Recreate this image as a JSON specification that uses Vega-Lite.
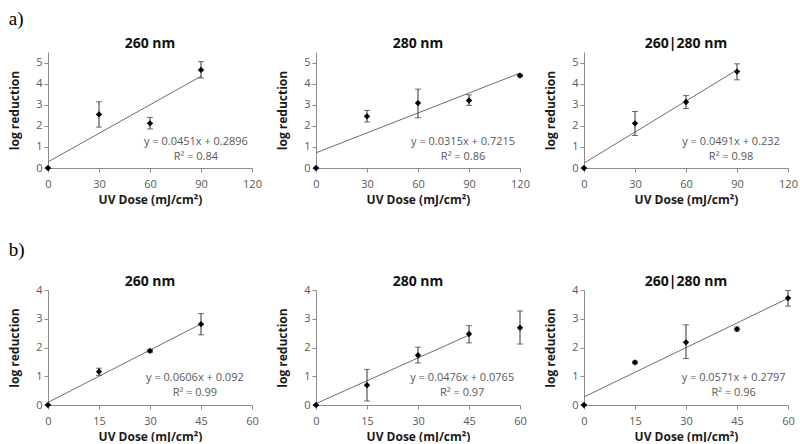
{
  "$schema": "https://vega.github.io/schema/vega-lite/v6.json",
  "padding": {"left": 8, "top": 10, "right": 0, "bottom": 0},
  "datasets": {
    "pts": [
      {"panel": "a1", "dose": 0, "lr": 0, "lo": 0, "hi": 0},
      {"panel": "a1", "dose": 30, "lr": 2.54, "lo": 1.94, "hi": 3.14},
      {"panel": "a1", "dose": 60, "lr": 2.12, "lo": 1.85, "hi": 2.4},
      {"panel": "a1", "dose": 90, "lr": 4.65, "lo": 4.27, "hi": 5.04},
      {"panel": "a2", "dose": 0, "lr": 0, "lo": 0, "hi": 0},
      {"panel": "a2", "dose": 30, "lr": 2.45, "lo": 2.18, "hi": 2.73},
      {"panel": "a2", "dose": 60, "lr": 3.08, "lo": 2.38, "hi": 3.74},
      {"panel": "a2", "dose": 90, "lr": 3.2, "lo": 2.97, "hi": 3.47},
      {"panel": "a2", "dose": 120, "lr": 4.38, "lo": 4.32, "hi": 4.44},
      {"panel": "a3", "dose": 0, "lr": 0, "lo": 0, "hi": 0},
      {"panel": "a3", "dose": 30, "lr": 2.12, "lo": 1.54, "hi": 2.68},
      {"panel": "a3", "dose": 60, "lr": 3.13, "lo": 2.82, "hi": 3.44},
      {"panel": "a3", "dose": 90, "lr": 4.57, "lo": 4.18, "hi": 4.94},
      {"panel": "b1", "dose": 0, "lr": 0, "lo": 0, "hi": 0},
      {"panel": "b1", "dose": 15, "lr": 1.16, "lo": 1.03, "hi": 1.28},
      {"panel": "b1", "dose": 30, "lr": 1.88, "lo": 1.83, "hi": 1.93},
      {"panel": "b1", "dose": 45, "lr": 2.81, "lo": 2.44, "hi": 3.18},
      {"panel": "b2", "dose": 0, "lr": 0, "lo": 0, "hi": 0},
      {"panel": "b2", "dose": 15, "lr": 0.69, "lo": 0.14, "hi": 1.24},
      {"panel": "b2", "dose": 30, "lr": 1.73, "lo": 1.46, "hi": 2.01},
      {"panel": "b2", "dose": 45, "lr": 2.47, "lo": 2.16, "hi": 2.76},
      {"panel": "b2", "dose": 60, "lr": 2.69, "lo": 2.12, "hi": 3.27},
      {"panel": "b3", "dose": 0, "lr": 0, "lo": 0, "hi": 0},
      {"panel": "b3", "dose": 15, "lr": 1.48, "lo": 1.43, "hi": 1.53},
      {"panel": "b3", "dose": 30, "lr": 2.18, "lo": 1.62, "hi": 2.79},
      {"panel": "b3", "dose": 45, "lr": 2.64, "lo": 2.57, "hi": 2.71},
      {"panel": "b3", "dose": 60, "lr": 3.72, "lo": 3.44, "hi": 3.98}
    ],
    "fit": [
      {"panel": "a1", "dose": 0, "lr": 0.29},
      {"panel": "a1", "dose": 90, "lr": 4.35},
      {"panel": "a2", "dose": 0, "lr": 0.72},
      {"panel": "a2", "dose": 120, "lr": 4.5},
      {"panel": "a3", "dose": 0, "lr": 0.23},
      {"panel": "a3", "dose": 90, "lr": 4.65},
      {"panel": "b1", "dose": 0, "lr": 0.09},
      {"panel": "b1", "dose": 45, "lr": 2.82},
      {"panel": "b2", "dose": 0, "lr": 0.05},
      {"panel": "b2", "dose": 45, "lr": 2.43},
      {"panel": "b3", "dose": 0, "lr": 0.28},
      {"panel": "b3", "dose": 60, "lr": 3.71}
    ],
    "eq": [
      {"panel": "a1", "eq": "y = 0.0451x + 0.2896", "r2": "R² = 0.84"},
      {"panel": "a2", "eq": "y = 0.0315x + 0.7215", "r2": "R² = 0.86"},
      {"panel": "a3", "eq": "y = 0.0491x + 0.232", "r2": "R² = 0.98"},
      {"panel": "b1", "eq": "y = 0.0606x + 0.092", "r2": "R² = 0.99"},
      {"panel": "b2", "eq": "y = 0.0476x + 0.0765", "r2": "R² = 0.97"},
      {"panel": "b3", "eq": "y = 0.0571x + 0.2797", "r2": "R² = 0.96"}
    ]
  },
  "config": {
    "view": {"stroke": null},
    "font": "Open Sans",
    "axis": {"grid": false, "domainColor": "#8c8c8c", "tickColor": "#8c8c8c", "tickSize": 4, "labelFont": "Open Sans", "labelFontSize": 11, "labelColor": "#595959", "labelOverlap": false, "labelFlush": false, "titleFont": "Open Sans", "titleFontSize": 12, "titleFontWeight": "bold", "titleColor": "#1a1a1a"},
    "axisX": {"labelPadding": 6, "titlePadding": 5},
    "axisY": {"labelPadding": 2, "titlePadding": 14},
    "title": {"font": "Open Sans", "fontSize": 14, "fontWeight": "bold", "color": "#111111", "offset": 1},
    "text": {"fontWeight": "normal", "fontSize": 11, "color": "#595959"},
    "concat": {"spacing": 64}
  },
  "spacing": 36,
  "vconcat": [
    {
      "title": {"text": "a)", "anchor": "start", "font": "Liberation Serif", "fontSize": 19, "fontWeight": "normal", "color": "#000000", "offset": 8},
      "bounds": "flush",
      "spacing": 64,
      "hconcat": [
        {
          "title": "260 nm", "width": 204, "height": 116,
          "layer": [
            {"data": {"name": "fit"}, "transform": [{"filter": "datum.panel === 'a1'"}],
             "mark": {"type": "line", "color": "#6e6e6e", "strokeWidth": 1},
             "encoding": {
               "x": {"field": "dose", "type": "quantitative", "scale": {"domain": [0, 120], "nice": false}, "axis": {"values": [0, 30, 60, 90, 120], "title": "UV Dose (mJ/cm²)"}},
               "y": {"field": "lr", "type": "quantitative", "scale": {"domain": [0, 5.5], "nice": false}, "axis": {"values": [0, 1, 2, 3, 4, 5], "title": "log reduction"}}}},
            {"data": {"name": "pts"}, "transform": [{"filter": "datum.panel === 'a1'"}],
             "layer": [
               {"mark": {"type": "rule", "color": "#333333", "strokeWidth": 1}, "encoding": {"x": {"field": "dose", "type": "quantitative", "scale": {"domain": [0, 120], "nice": false}, "axis": {"values": [0, 30, 60, 90, 120], "title": "UV Dose (mJ/cm²)"}}, "y": {"field": "lo", "type": "quantitative", "scale": {"domain": [0, 5.5], "nice": false}, "axis": {"values": [0, 1, 2, 3, 4, 5], "title": "log reduction"}}, "y2": {"field": "hi"}}},
               {"mark": {"type": "tick", "orient": "horizontal", "size": 6, "thickness": 1, "color": "#333333"}, "encoding": {"x": {"field": "dose", "type": "quantitative", "scale": {"domain": [0, 120], "nice": false}, "axis": {"values": [0, 30, 60, 90, 120], "title": "UV Dose (mJ/cm²)"}}, "y": {"field": "lo", "type": "quantitative", "scale": {"domain": [0, 5.5], "nice": false}, "axis": {"values": [0, 1, 2, 3, 4, 5], "title": "log reduction"}}}},
               {"mark": {"type": "tick", "orient": "horizontal", "size": 6, "thickness": 1, "color": "#333333"}, "encoding": {"x": {"field": "dose", "type": "quantitative", "scale": {"domain": [0, 120], "nice": false}, "axis": {"values": [0, 30, 60, 90, 120], "title": "UV Dose (mJ/cm²)"}}, "y": {"field": "hi", "type": "quantitative", "scale": {"domain": [0, 5.5], "nice": false}, "axis": {"values": [0, 1, 2, 3, 4, 5], "title": "log reduction"}}}},
               {"mark": {"type": "point", "shape": "diamond", "filled": true, "size": 40, "color": "#000000", "opacity": 1}, "encoding": {"x": {"field": "dose", "type": "quantitative", "scale": {"domain": [0, 120], "nice": false}, "axis": {"values": [0, 30, 60, 90, 120], "title": "UV Dose (mJ/cm²)"}}, "y": {"field": "lr", "type": "quantitative", "scale": {"domain": [0, 5.5], "nice": false}, "axis": {"values": [0, 1, 2, 3, 4, 5], "title": "log reduction"}}}}
             ]},
            {"data": {"name": "eq"}, "transform": [{"filter": "datum.panel === 'a1'"}],
             "layer": [
               {"mark": {"type": "text", "baseline": "middle"},
                "encoding": {"x": {"datum": 87, "type": "quantitative", "scale": {"domain": [0, 120], "nice": false}, "axis": {"values": [0, 30, 60, 90, 120], "title": "UV Dose (mJ/cm²)"}}, "y": {"datum": 1.22, "type": "quantitative", "scale": {"domain": [0, 5.5], "nice": false}, "axis": {"values": [0, 1, 2, 3, 4, 5], "title": "log reduction"}}, "text": {"field": "eq"}}},
               {"mark": {"type": "text", "baseline": "middle"},
                "encoding": {"x": {"datum": 87, "type": "quantitative", "scale": {"domain": [0, 120], "nice": false}, "axis": {"values": [0, 30, 60, 90, 120], "title": "UV Dose (mJ/cm²)"}}, "y": {"datum": 0.52, "type": "quantitative", "scale": {"domain": [0, 5.5], "nice": false}, "axis": {"values": [0, 1, 2, 3, 4, 5], "title": "log reduction"}}, "text": {"field": "r2"}}}
             ]}
          ]
        },
        {
          "title": "280 nm", "width": 204, "height": 116,
          "layer": [
            {"data": {"name": "fit"}, "transform": [{"filter": "datum.panel === 'a2'"}],
             "mark": {"type": "line", "color": "#6e6e6e", "strokeWidth": 1},
             "encoding": {
               "x": {"field": "dose", "type": "quantitative", "scale": {"domain": [0, 120], "nice": false}, "axis": {"values": [0, 30, 60, 90, 120], "title": "UV Dose (mJ/cm²)"}},
               "y": {"field": "lr", "type": "quantitative", "scale": {"domain": [0, 5.5], "nice": false}, "axis": {"values": [0, 1, 2, 3, 4, 5], "title": "log reduction"}}}},
            {"data": {"name": "pts"}, "transform": [{"filter": "datum.panel === 'a2'"}],
             "layer": [
               {"mark": {"type": "rule", "color": "#333333", "strokeWidth": 1}, "encoding": {"x": {"field": "dose", "type": "quantitative", "scale": {"domain": [0, 120], "nice": false}, "axis": {"values": [0, 30, 60, 90, 120], "title": "UV Dose (mJ/cm²)"}}, "y": {"field": "lo", "type": "quantitative", "scale": {"domain": [0, 5.5], "nice": false}, "axis": {"values": [0, 1, 2, 3, 4, 5], "title": "log reduction"}}, "y2": {"field": "hi"}}},
               {"mark": {"type": "tick", "orient": "horizontal", "size": 6, "thickness": 1, "color": "#333333"}, "encoding": {"x": {"field": "dose", "type": "quantitative", "scale": {"domain": [0, 120], "nice": false}, "axis": {"values": [0, 30, 60, 90, 120], "title": "UV Dose (mJ/cm²)"}}, "y": {"field": "lo", "type": "quantitative", "scale": {"domain": [0, 5.5], "nice": false}, "axis": {"values": [0, 1, 2, 3, 4, 5], "title": "log reduction"}}}},
               {"mark": {"type": "tick", "orient": "horizontal", "size": 6, "thickness": 1, "color": "#333333"}, "encoding": {"x": {"field": "dose", "type": "quantitative", "scale": {"domain": [0, 120], "nice": false}, "axis": {"values": [0, 30, 60, 90, 120], "title": "UV Dose (mJ/cm²)"}}, "y": {"field": "hi", "type": "quantitative", "scale": {"domain": [0, 5.5], "nice": false}, "axis": {"values": [0, 1, 2, 3, 4, 5], "title": "log reduction"}}}},
               {"mark": {"type": "point", "shape": "diamond", "filled": true, "size": 40, "color": "#000000", "opacity": 1}, "encoding": {"x": {"field": "dose", "type": "quantitative", "scale": {"domain": [0, 120], "nice": false}, "axis": {"values": [0, 30, 60, 90, 120], "title": "UV Dose (mJ/cm²)"}}, "y": {"field": "lr", "type": "quantitative", "scale": {"domain": [0, 5.5], "nice": false}, "axis": {"values": [0, 1, 2, 3, 4, 5], "title": "log reduction"}}}}
             ]},
            {"data": {"name": "eq"}, "transform": [{"filter": "datum.panel === 'a2'"}],
             "layer": [
               {"mark": {"type": "text", "baseline": "middle"},
                "encoding": {"x": {"datum": 86.5, "type": "quantitative", "scale": {"domain": [0, 120], "nice": false}, "axis": {"values": [0, 30, 60, 90, 120], "title": "UV Dose (mJ/cm²)"}}, "y": {"datum": 1.22, "type": "quantitative", "scale": {"domain": [0, 5.5], "nice": false}, "axis": {"values": [0, 1, 2, 3, 4, 5], "title": "log reduction"}}, "text": {"field": "eq"}}},
               {"mark": {"type": "text", "baseline": "middle"},
                "encoding": {"x": {"datum": 86.5, "type": "quantitative", "scale": {"domain": [0, 120], "nice": false}, "axis": {"values": [0, 30, 60, 90, 120], "title": "UV Dose (mJ/cm²)"}}, "y": {"datum": 0.52, "type": "quantitative", "scale": {"domain": [0, 5.5], "nice": false}, "axis": {"values": [0, 1, 2, 3, 4, 5], "title": "log reduction"}}, "text": {"field": "r2"}}}
             ]}
          ]
        },
        {
          "title": "260|280 nm", "width": 204, "height": 116,
          "layer": [
            {"data": {"name": "fit"}, "transform": [{"filter": "datum.panel === 'a3'"}],
             "mark": {"type": "line", "color": "#6e6e6e", "strokeWidth": 1},
             "encoding": {
               "x": {"field": "dose", "type": "quantitative", "scale": {"domain": [0, 120], "nice": false}, "axis": {"values": [0, 30, 60, 90, 120], "title": "UV Dose (mJ/cm²)"}},
               "y": {"field": "lr", "type": "quantitative", "scale": {"domain": [0, 5.5], "nice": false}, "axis": {"values": [0, 1, 2, 3, 4, 5], "title": "log reduction"}}}},
            {"data": {"name": "pts"}, "transform": [{"filter": "datum.panel === 'a3'"}],
             "layer": [
               {"mark": {"type": "rule", "color": "#333333", "strokeWidth": 1}, "encoding": {"x": {"field": "dose", "type": "quantitative", "scale": {"domain": [0, 120], "nice": false}, "axis": {"values": [0, 30, 60, 90, 120], "title": "UV Dose (mJ/cm²)"}}, "y": {"field": "lo", "type": "quantitative", "scale": {"domain": [0, 5.5], "nice": false}, "axis": {"values": [0, 1, 2, 3, 4, 5], "title": "log reduction"}}, "y2": {"field": "hi"}}},
               {"mark": {"type": "tick", "orient": "horizontal", "size": 6, "thickness": 1, "color": "#333333"}, "encoding": {"x": {"field": "dose", "type": "quantitative", "scale": {"domain": [0, 120], "nice": false}, "axis": {"values": [0, 30, 60, 90, 120], "title": "UV Dose (mJ/cm²)"}}, "y": {"field": "lo", "type": "quantitative", "scale": {"domain": [0, 5.5], "nice": false}, "axis": {"values": [0, 1, 2, 3, 4, 5], "title": "log reduction"}}}},
               {"mark": {"type": "tick", "orient": "horizontal", "size": 6, "thickness": 1, "color": "#333333"}, "encoding": {"x": {"field": "dose", "type": "quantitative", "scale": {"domain": [0, 120], "nice": false}, "axis": {"values": [0, 30, 60, 90, 120], "title": "UV Dose (mJ/cm²)"}}, "y": {"field": "hi", "type": "quantitative", "scale": {"domain": [0, 5.5], "nice": false}, "axis": {"values": [0, 1, 2, 3, 4, 5], "title": "log reduction"}}}},
               {"mark": {"type": "point", "shape": "diamond", "filled": true, "size": 40, "color": "#000000", "opacity": 1}, "encoding": {"x": {"field": "dose", "type": "quantitative", "scale": {"domain": [0, 120], "nice": false}, "axis": {"values": [0, 30, 60, 90, 120], "title": "UV Dose (mJ/cm²)"}}, "y": {"field": "lr", "type": "quantitative", "scale": {"domain": [0, 5.5], "nice": false}, "axis": {"values": [0, 1, 2, 3, 4, 5], "title": "log reduction"}}}}
             ]},
            {"data": {"name": "eq"}, "transform": [{"filter": "datum.panel === 'a3'"}],
             "layer": [
               {"mark": {"type": "text", "baseline": "middle"},
                "encoding": {"x": {"datum": 86.5, "type": "quantitative", "scale": {"domain": [0, 120], "nice": false}, "axis": {"values": [0, 30, 60, 90, 120], "title": "UV Dose (mJ/cm²)"}}, "y": {"datum": 1.22, "type": "quantitative", "scale": {"domain": [0, 5.5], "nice": false}, "axis": {"values": [0, 1, 2, 3, 4, 5], "title": "log reduction"}}, "text": {"field": "eq"}}},
               {"mark": {"type": "text", "baseline": "middle"},
                "encoding": {"x": {"datum": 86.5, "type": "quantitative", "scale": {"domain": [0, 120], "nice": false}, "axis": {"values": [0, 30, 60, 90, 120], "title": "UV Dose (mJ/cm²)"}}, "y": {"datum": 0.52, "type": "quantitative", "scale": {"domain": [0, 5.5], "nice": false}, "axis": {"values": [0, 1, 2, 3, 4, 5], "title": "log reduction"}}, "text": {"field": "r2"}}}
             ]}
          ]
        }
      ]
    },
    {
      "title": {"text": "b)", "anchor": "start", "font": "Liberation Serif", "fontSize": 19, "fontWeight": "normal", "color": "#000000", "offset": 15},
      "bounds": "flush",
      "spacing": 64,
      "hconcat": [
        {
          "title": {"text": "260 nm", "frame": "group", "offset": -5}, "width": 204, "height": 115,
          "layer": [
            {"data": {"name": "fit"}, "transform": [{"filter": "datum.panel === 'b1'"}],
             "mark": {"type": "line", "color": "#6e6e6e", "strokeWidth": 1},
             "encoding": {
               "x": {"field": "dose", "type": "quantitative", "scale": {"domain": [0, 60], "nice": false}, "axis": {"values": [0, 15, 30, 45, 60], "title": "UV Dose (mJ/cm²)"}},
               "y": {"field": "lr", "type": "quantitative", "scale": {"domain": [0, 4], "nice": false}, "axis": {"values": [0, 1, 2, 3, 4], "title": "log reduction"}}}},
            {"data": {"name": "pts"}, "transform": [{"filter": "datum.panel === 'b1'"}],
             "layer": [
               {"mark": {"type": "rule", "color": "#333333", "strokeWidth": 1}, "encoding": {"x": {"field": "dose", "type": "quantitative", "scale": {"domain": [0, 60], "nice": false}, "axis": {"values": [0, 15, 30, 45, 60], "title": "UV Dose (mJ/cm²)"}}, "y": {"field": "lo", "type": "quantitative", "scale": {"domain": [0, 4], "nice": false}, "axis": {"values": [0, 1, 2, 3, 4], "title": "log reduction"}}, "y2": {"field": "hi"}}},
               {"mark": {"type": "tick", "orient": "horizontal", "size": 6, "thickness": 1, "color": "#333333"}, "encoding": {"x": {"field": "dose", "type": "quantitative", "scale": {"domain": [0, 60], "nice": false}, "axis": {"values": [0, 15, 30, 45, 60], "title": "UV Dose (mJ/cm²)"}}, "y": {"field": "lo", "type": "quantitative", "scale": {"domain": [0, 4], "nice": false}, "axis": {"values": [0, 1, 2, 3, 4], "title": "log reduction"}}}},
               {"mark": {"type": "tick", "orient": "horizontal", "size": 6, "thickness": 1, "color": "#333333"}, "encoding": {"x": {"field": "dose", "type": "quantitative", "scale": {"domain": [0, 60], "nice": false}, "axis": {"values": [0, 15, 30, 45, 60], "title": "UV Dose (mJ/cm²)"}}, "y": {"field": "hi", "type": "quantitative", "scale": {"domain": [0, 4], "nice": false}, "axis": {"values": [0, 1, 2, 3, 4], "title": "log reduction"}}}},
               {"mark": {"type": "point", "shape": "diamond", "filled": true, "size": 40, "color": "#000000", "opacity": 1}, "encoding": {"x": {"field": "dose", "type": "quantitative", "scale": {"domain": [0, 60], "nice": false}, "axis": {"values": [0, 15, 30, 45, 60], "title": "UV Dose (mJ/cm²)"}}, "y": {"field": "lr", "type": "quantitative", "scale": {"domain": [0, 4], "nice": false}, "axis": {"values": [0, 1, 2, 3, 4], "title": "log reduction"}}}}
             ]},
            {"data": {"name": "eq"}, "transform": [{"filter": "datum.panel === 'b1'"}],
             "layer": [
               {"mark": {"type": "text", "baseline": "middle"},
                "encoding": {"x": {"datum": 43.2, "type": "quantitative", "scale": {"domain": [0, 60], "nice": false}, "axis": {"values": [0, 15, 30, 45, 60], "title": "UV Dose (mJ/cm²)"}}, "y": {"datum": 0.94, "type": "quantitative", "scale": {"domain": [0, 4], "nice": false}, "axis": {"values": [0, 1, 2, 3, 4], "title": "log reduction"}}, "text": {"field": "eq"}}},
               {"mark": {"type": "text", "baseline": "middle"},
                "encoding": {"x": {"datum": 43.2, "type": "quantitative", "scale": {"domain": [0, 60], "nice": false}, "axis": {"values": [0, 15, 30, 45, 60], "title": "UV Dose (mJ/cm²)"}}, "y": {"datum": 0.43, "type": "quantitative", "scale": {"domain": [0, 4], "nice": false}, "axis": {"values": [0, 1, 2, 3, 4], "title": "log reduction"}}, "text": {"field": "r2"}}}
             ]}
          ]
        },
        {
          "title": {"text": "280 nm", "frame": "group", "offset": -5}, "width": 204, "height": 115,
          "layer": [
            {"data": {"name": "fit"}, "transform": [{"filter": "datum.panel === 'b2'"}],
             "mark": {"type": "line", "color": "#6e6e6e", "strokeWidth": 1},
             "encoding": {
               "x": {"field": "dose", "type": "quantitative", "scale": {"domain": [0, 60], "nice": false}, "axis": {"values": [0, 15, 30, 45, 60], "title": "UV Dose (mJ/cm²)"}},
               "y": {"field": "lr", "type": "quantitative", "scale": {"domain": [0, 4], "nice": false}, "axis": {"values": [0, 1, 2, 3, 4], "title": "log reduction"}}}},
            {"data": {"name": "pts"}, "transform": [{"filter": "datum.panel === 'b2'"}],
             "layer": [
               {"mark": {"type": "rule", "color": "#333333", "strokeWidth": 1}, "encoding": {"x": {"field": "dose", "type": "quantitative", "scale": {"domain": [0, 60], "nice": false}, "axis": {"values": [0, 15, 30, 45, 60], "title": "UV Dose (mJ/cm²)"}}, "y": {"field": "lo", "type": "quantitative", "scale": {"domain": [0, 4], "nice": false}, "axis": {"values": [0, 1, 2, 3, 4], "title": "log reduction"}}, "y2": {"field": "hi"}}},
               {"mark": {"type": "tick", "orient": "horizontal", "size": 6, "thickness": 1, "color": "#333333"}, "encoding": {"x": {"field": "dose", "type": "quantitative", "scale": {"domain": [0, 60], "nice": false}, "axis": {"values": [0, 15, 30, 45, 60], "title": "UV Dose (mJ/cm²)"}}, "y": {"field": "lo", "type": "quantitative", "scale": {"domain": [0, 4], "nice": false}, "axis": {"values": [0, 1, 2, 3, 4], "title": "log reduction"}}}},
               {"mark": {"type": "tick", "orient": "horizontal", "size": 6, "thickness": 1, "color": "#333333"}, "encoding": {"x": {"field": "dose", "type": "quantitative", "scale": {"domain": [0, 60], "nice": false}, "axis": {"values": [0, 15, 30, 45, 60], "title": "UV Dose (mJ/cm²)"}}, "y": {"field": "hi", "type": "quantitative", "scale": {"domain": [0, 4], "nice": false}, "axis": {"values": [0, 1, 2, 3, 4], "title": "log reduction"}}}},
               {"mark": {"type": "point", "shape": "diamond", "filled": true, "size": 40, "color": "#000000", "opacity": 1}, "encoding": {"x": {"field": "dose", "type": "quantitative", "scale": {"domain": [0, 60], "nice": false}, "axis": {"values": [0, 15, 30, 45, 60], "title": "UV Dose (mJ/cm²)"}}, "y": {"field": "lr", "type": "quantitative", "scale": {"domain": [0, 4], "nice": false}, "axis": {"values": [0, 1, 2, 3, 4], "title": "log reduction"}}}}
             ]},
            {"data": {"name": "eq"}, "transform": [{"filter": "datum.panel === 'b2'"}],
             "layer": [
               {"mark": {"type": "text", "baseline": "middle"},
                "encoding": {"x": {"datum": 43, "type": "quantitative", "scale": {"domain": [0, 60], "nice": false}, "axis": {"values": [0, 15, 30, 45, 60], "title": "UV Dose (mJ/cm²)"}}, "y": {"datum": 0.94, "type": "quantitative", "scale": {"domain": [0, 4], "nice": false}, "axis": {"values": [0, 1, 2, 3, 4], "title": "log reduction"}}, "text": {"field": "eq"}}},
               {"mark": {"type": "text", "baseline": "middle"},
                "encoding": {"x": {"datum": 43, "type": "quantitative", "scale": {"domain": [0, 60], "nice": false}, "axis": {"values": [0, 15, 30, 45, 60], "title": "UV Dose (mJ/cm²)"}}, "y": {"datum": 0.43, "type": "quantitative", "scale": {"domain": [0, 4], "nice": false}, "axis": {"values": [0, 1, 2, 3, 4], "title": "log reduction"}}, "text": {"field": "r2"}}}
             ]}
          ]
        },
        {
          "title": {"text": "260|280 nm", "frame": "group", "offset": -5}, "width": 204, "height": 115,
          "layer": [
            {"data": {"name": "fit"}, "transform": [{"filter": "datum.panel === 'b3'"}],
             "mark": {"type": "line", "color": "#6e6e6e", "strokeWidth": 1},
             "encoding": {
               "x": {"field": "dose", "type": "quantitative", "scale": {"domain": [0, 60], "nice": false}, "axis": {"values": [0, 15, 30, 45, 60], "title": "UV Dose (mJ/cm²)"}},
               "y": {"field": "lr", "type": "quantitative", "scale": {"domain": [0, 4], "nice": false}, "axis": {"values": [0, 1, 2, 3, 4], "title": "log reduction"}}}},
            {"data": {"name": "pts"}, "transform": [{"filter": "datum.panel === 'b3'"}],
             "layer": [
               {"mark": {"type": "rule", "color": "#333333", "strokeWidth": 1}, "encoding": {"x": {"field": "dose", "type": "quantitative", "scale": {"domain": [0, 60], "nice": false}, "axis": {"values": [0, 15, 30, 45, 60], "title": "UV Dose (mJ/cm²)"}}, "y": {"field": "lo", "type": "quantitative", "scale": {"domain": [0, 4], "nice": false}, "axis": {"values": [0, 1, 2, 3, 4], "title": "log reduction"}}, "y2": {"field": "hi"}}},
               {"mark": {"type": "tick", "orient": "horizontal", "size": 6, "thickness": 1, "color": "#333333"}, "encoding": {"x": {"field": "dose", "type": "quantitative", "scale": {"domain": [0, 60], "nice": false}, "axis": {"values": [0, 15, 30, 45, 60], "title": "UV Dose (mJ/cm²)"}}, "y": {"field": "lo", "type": "quantitative", "scale": {"domain": [0, 4], "nice": false}, "axis": {"values": [0, 1, 2, 3, 4], "title": "log reduction"}}}},
               {"mark": {"type": "tick", "orient": "horizontal", "size": 6, "thickness": 1, "color": "#333333"}, "encoding": {"x": {"field": "dose", "type": "quantitative", "scale": {"domain": [0, 60], "nice": false}, "axis": {"values": [0, 15, 30, 45, 60], "title": "UV Dose (mJ/cm²)"}}, "y": {"field": "hi", "type": "quantitative", "scale": {"domain": [0, 4], "nice": false}, "axis": {"values": [0, 1, 2, 3, 4], "title": "log reduction"}}}},
               {"mark": {"type": "point", "shape": "diamond", "filled": true, "size": 40, "color": "#000000", "opacity": 1}, "encoding": {"x": {"field": "dose", "type": "quantitative", "scale": {"domain": [0, 60], "nice": false}, "axis": {"values": [0, 15, 30, 45, 60], "title": "UV Dose (mJ/cm²)"}}, "y": {"field": "lr", "type": "quantitative", "scale": {"domain": [0, 4], "nice": false}, "axis": {"values": [0, 1, 2, 3, 4], "title": "log reduction"}}}}
             ]},
            {"data": {"name": "eq"}, "transform": [{"filter": "datum.panel === 'b3'"}],
             "layer": [
               {"mark": {"type": "text", "baseline": "middle"},
                "encoding": {"x": {"datum": 44, "type": "quantitative", "scale": {"domain": [0, 60], "nice": false}, "axis": {"values": [0, 15, 30, 45, 60], "title": "UV Dose (mJ/cm²)"}}, "y": {"datum": 0.94, "type": "quantitative", "scale": {"domain": [0, 4], "nice": false}, "axis": {"values": [0, 1, 2, 3, 4], "title": "log reduction"}}, "text": {"field": "eq"}}},
               {"mark": {"type": "text", "baseline": "middle"},
                "encoding": {"x": {"datum": 44, "type": "quantitative", "scale": {"domain": [0, 60], "nice": false}, "axis": {"values": [0, 15, 30, 45, 60], "title": "UV Dose (mJ/cm²)"}}, "y": {"datum": 0.43, "type": "quantitative", "scale": {"domain": [0, 4], "nice": false}, "axis": {"values": [0, 1, 2, 3, 4], "title": "log reduction"}}, "text": {"field": "r2"}}}
             ]}
          ]
        }
      ]
    }
  ]
}
